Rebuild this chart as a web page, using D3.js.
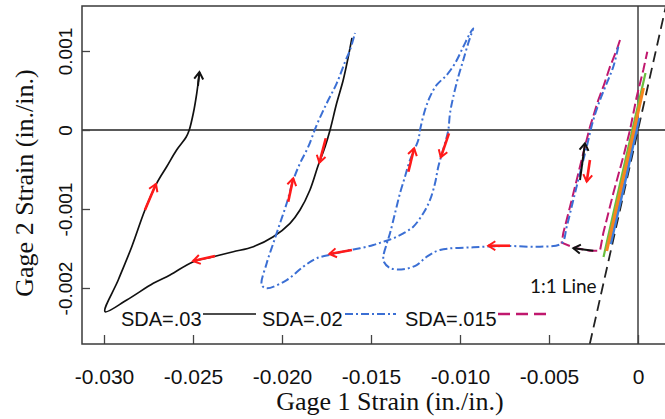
<!DOCTYPE html>
<html>
<head>
<meta charset="utf-8">
<script src="https://cdn.jsdelivr.net/npm/d3@7"></script>
<style>
  body { margin: 0; background: #fff; }
  svg { display: block; }
</style>
</head>
<body>
<div id="chart"></div>
<script>
// tick values and labels
const xTicks = [-0.030, -0.025, -0.020, -0.015, -0.010, -0.005, 0];
const xTickLabels = ["-0.030", "-0.025", "-0.020", "-0.015", "-0.010", "-0.005", "0"];
const yTicks = [-0.002, -0.001, 0, 0.001];
const yTickLabels = ["-0.002", "-0.001", "0", "0.001"];

const seriesNames = ["SDA=.03", "SDA=.02", "SDA=.015"];

// SDA=.03 (gage 1 strain, gage 2 strain)
const sda03 = [
  [-0.01607, 0.001165], [-0.01629, 0.000911], [-0.01656, 0.000633], [-0.01693, 0.000338],
  [-0.01730, 0], [-0.01758, -0.000211], [-0.01796, -0.000443], [-0.01843, -0.000759],
  [-0.01899, -0.001013], [-0.01955, -0.001181], [-0.02049, -0.001351], [-0.02161, -0.001477],
  [-0.02274, -0.001541], [-0.02386, -0.001604], [-0.02498, -0.001667], [-0.02629, -0.001835],
  [-0.02723, -0.001941], [-0.02872, -0.002152], [-0.02994, -0.002300], [-0.02920, -0.001899],
  [-0.02844, -0.001477], [-0.02770, -0.001013], [-0.02704, -0.000675], [-0.02648, -0.000465],
  [-0.02592, -0.000253], [-0.02539, -0.000092], [-0.02521, 0], [-0.02498, 0.000215],
  [-0.02479, 0.000465], [-0.02465, 0.000709]
];

// SDA=.02
const sda02 = [
  [-0.001107, 0.001054], [-0.001388, 0.000801], [-0.001758, 0.000591], [-0.002135, 0.000380],
  [-0.002511, 0.000127], [-0.002882, -0.000211], [-0.003258, -0.000544], [-0.003635, -0.000886],
  [-0.004006, -0.001224], [-0.004287, -0.001434], [-0.005506, -0.001477], [-0.007376, -0.001468],
  [-0.009253, -0.001485], [-0.011124, -0.001519], [-0.011871, -0.001604], [-0.012433, -0.001709],
  [-0.013185, -0.001763], [-0.013933, -0.001747], [-0.014270, -0.001671], [-0.014309, -0.001604],
  [-0.014101, -0.001430], [-0.013933, -0.001308], [-0.013652, -0.001054], [-0.013371, -0.000801],
  [-0.013090, -0.000591], [-0.012809, -0.000380], [-0.012343, -0.000127], [-0.012247, 0],
  [-0.011966, 0.000253], [-0.011685, 0.000422], [-0.011309, 0.000570], [-0.010747, 0.000696],
  [-0.010281, 0.000844], [-0.009815, 0.001054], [-0.009438, 0.001224], [-0.009253, 0.001287],
  [-0.009343, 0.001228], [-0.009534, 0.001101], [-0.009815, 0.000886], [-0.010096, 0.000675],
  [-0.010376, 0.000422], [-0.010562, 0.000211], [-0.010657, 0], [-0.010843, -0.000168],
  [-0.011219, -0.000465], [-0.011404, -0.000675], [-0.011685, -0.000886], [-0.012062, -0.001054],
  [-0.012624, -0.001224], [-0.013185, -0.001308], [-0.013747, -0.001371], [-0.014309, -0.001414],
  [-0.014871, -0.001456], [-0.015618, -0.001497], [-0.016365, -0.001528], [-0.017118, -0.001570],
  [-0.018051, -0.001624], [-0.018803, -0.001730], [-0.019736, -0.001899], [-0.020860, -0.002004],
  [-0.021140, -0.001962], [-0.020860, -0.001687], [-0.020489, -0.001434], [-0.020112, -0.001181],
  [-0.019736, -0.000928], [-0.019365, -0.000633], [-0.018989, -0.000422], [-0.018522, -0.000211],
  [-0.018051, 0.000063], [-0.017489, 0.000338], [-0.016927, 0.000591], [-0.016461, 0.000861],
  [-0.016180, 0.001013], [-0.015899, 0.001228]
];

// SDA=.015
const sda015 = [
  [-0.001011, 0.001139], [-0.001197, 0.001013], [-0.001573, 0.000801], [-0.001949, 0.000548],
  [-0.002230, 0.000380], [-0.002697, 0.000042], [-0.003073, -0.000291], [-0.003444, -0.000633],
  [-0.003820, -0.000971], [-0.004197, -0.001304], [-0.004287, -0.001427], [-0.003539, -0.001494],
  [-0.002697, -0.001528], [-0.002135, -0.001528], [-0.001949, -0.001304], [-0.001388, -0.000801],
  [-0.000826, -0.000338], [-0.000449, 0], [-0.000073, 0.000422], [0.000298, 0.000759],
  [0.000522, 0.000991]
];

// small cycles close to the origin
const greenCycle = [[-0.001938, -0.001608], [-0.000750, -0.000420], [0.000421, 0.000722]];
const blueCycle = [[-0.001545, -0.001443], [-0.000700, -0.000620], [0.000056, 0.000152]];
const orangeCycle = [[-0.001758, -0.001532], [-0.000700, -0.000480], [0.000309, 0.000532]];

// direction arrows: [x1, y1, x2, y2]
const redArrows = [
  [-0.02770, -0.001013, -0.02708, -0.000684],
  [-0.02376, -0.001595, -0.02500, -0.001658],
  [-0.01754, -0.000105, -0.01790, -0.000414],
  [-0.00719, -0.001465, -0.00841, -0.001465],
  [-0.01290, -0.000528, -0.01258, -0.000232],
  [-0.01062, -0.000042, -0.01108, -0.000346],
  [-0.01607, -0.001519, -0.01734, -0.001570],
  [-0.01965, -0.000908, -0.01937, -0.000611],
  [-0.00270, -0.000380, -0.00288, -0.000654]
];
const blackArrows = [
  [-0.00326, -0.000633, -0.00298, -0.000168],
  [-0.00251, -0.001528, -0.00363, -0.001497],
  [-0.02472, 0.000557, -0.02464, 0.000734]
];

const width = 665;
const height = 419;
const plot = { left: 82, right: 667, top: 6, bottom: 344 };

const x = d3.scaleLinear()
    .domain([-0.031236, 0.001629])
    .range([plot.left, plot.right]);

const y = d3.scaleLinear()
    .domain([-0.0027089, 0.0015696])
    .range([plot.bottom, plot.top]);

const svg = d3.select("#chart")
    .append("svg")
    .attr("width", width)
    .attr("height", height);

const defs = svg.append("defs");

defs.append("clipPath")
    .attr("id", "plot-clip")
    .append("rect")
    .attr("x", plot.left)
    .attr("y", plot.top)
    .attr("width", plot.right - plot.left)
    .attr("height", plot.bottom - plot.top);

function arrowMarker(id, color) {
    defs.append("marker")
        .attr("id", id)
        .attr("viewBox", "-9 -6 11 12")
        .attr("refX", 0)
        .attr("refY", 0)
        .attr("markerUnits", "userSpaceOnUse")
        .attr("markerWidth", 11)
        .attr("markerHeight", 12)
        .attr("orient", "auto")
        .append("path")
        .attr("d", "M-7,-4.5 L0,0 L-7,4.5")
        .attr("fill", "none")
        .attr("stroke", color)
        .attr("stroke-width", 2);
}
arrowMarker("arrow-red", "#ff1a1a");
arrowMarker("arrow-black", "#111");

// zero lines
svg.append("line")
    .attr("x1", plot.left).attr("x2", plot.right)
    .attr("y1", y(0)).attr("y2", y(0))
    .attr("stroke", "#222").attr("stroke-width", 1.3);
svg.append("line")
    .attr("x1", x(0)).attr("x2", x(0))
    .attr("y1", plot.top).attr("y2", plot.bottom)
    .attr("stroke", "#222").attr("stroke-width", 1.3);

const line = d3.line()
    .x(d => x(d[0]))
    .y(d => y(d[1]));

// smoother line for the long hysteresis curves
const smoothLine = d3.line()
    .x(d => x(d[0]))
    .y(d => y(d[1]))
    .curve(d3.curveCatmullRom.alpha(0.5));

const g = svg.append("g").attr("clip-path", "url(#plot-clip)");

// 1:1 line
const yd = y.domain();
g.append("path")
    .datum([[yd[0], yd[0]], [yd[1], yd[1]]])
    .attr("d", line)
    .attr("fill", "none")
    .attr("stroke", "#222")
    .attr("stroke-width", 1.8)
    .attr("stroke-dasharray", "11,6");

g.append("path").datum(greenCycle).attr("d", line)
    .attr("fill", "none").attr("stroke", "#6abf40").attr("stroke-width", 2.2);
g.append("path").datum(blueCycle).attr("d", line)
    .attr("fill", "none").attr("stroke", "#3d7fe0").attr("stroke-width", 3);
g.append("path").datum(orangeCycle).attr("d", line)
    .attr("fill", "none").attr("stroke", "#f5861f").attr("stroke-width", 3);

g.append("path").datum(sda015).attr("d", line)
    .attr("fill", "none").attr("stroke", "#c0186e").attr("stroke-width", 2)
    .attr("stroke-dasharray", "10,4");

g.append("path").datum(sda03).attr("d", smoothLine)
    .attr("fill", "none").attr("stroke", "#111").attr("stroke-width", 1.7)
    .attr("stroke-linejoin", "round");

g.append("path").datum(sda02).attr("d", smoothLine)
    .attr("fill", "none").attr("stroke", "#3b6fd4").attr("stroke-width", 2)
    .attr("stroke-dasharray", "8,3,2,3");

// arrows
g.selectAll(".red-arrow")
    .data(redArrows)
    .enter().append("line")
    .attr("class", "red-arrow")
    .attr("x1", d => x(d[0])).attr("y1", d => y(d[1]))
    .attr("x2", d => x(d[2])).attr("y2", d => y(d[3]))
    .attr("stroke", "#ff1a1a")
    .attr("stroke-width", 2.6)
    .attr("marker-end", "url(#arrow-red)");

g.selectAll(".black-arrow")
    .data(blackArrows)
    .enter().append("line")
    .attr("class", "black-arrow")
    .attr("x1", d => x(d[0])).attr("y1", d => y(d[1]))
    .attr("x2", d => x(d[2])).attr("y2", d => y(d[3]))
    .attr("stroke", "#111")
    .attr("stroke-width", 2)
    .attr("marker-end", "url(#arrow-black)");

// X axis
svg.append("g")
    .attr("transform", `translate(0,${plot.bottom})`)
    .call(d3.axisBottom(x).tickValues(xTicks).tickFormat((d, i) => xTickLabels[i])
        .tickSize(-9).tickPadding(25))
    .call(a => a.select(".domain").remove())
    .call(a => a.selectAll("line").attr("stroke", "#444").attr("stroke-width", 1.3))
    .selectAll("text")
    .attr("fill", "#111")
    .style("font-family", "'Liberation Sans', Arial, sans-serif")
    .style("font-size", "21px");

// Y axis
svg.append("g")
    .attr("transform", `translate(${plot.left},0)`)
    .call(d3.axisLeft(y).tickValues(yTicks).tickFormat((d, i) => yTickLabels[i])
        .tickSize(-8))
    .call(a => a.select(".domain").remove())
    .call(a => a.selectAll("line").attr("stroke", "#444").attr("stroke-width", 1.3))
    .selectAll("text")
    .attr("transform", "rotate(-90)")
    .attr("x", 0)
    .attr("y", -10)
    .attr("dy", 0)
    .attr("text-anchor", "middle")
    .attr("fill", "#111")
    .style("font-family", "'Liberation Sans', Arial, sans-serif")
    .style("font-size", "19px");

// frame
svg.append("rect")
    .attr("x", plot.left)
    .attr("y", plot.top)
    .attr("width", plot.right - plot.left)
    .attr("height", plot.bottom - plot.top)
    .attr("fill", "none")
    .attr("stroke", "#3a3a3a")
    .attr("stroke-width", 1.5);

// axis titles
svg.append("text")
    .attr("x", 390)
    .attr("y", 410)
    .attr("text-anchor", "middle")
    .style("font-family", "'Liberation Serif', 'Times New Roman', serif")
    .style("font-size", "26px")
    .attr("fill", "#111")
    .text("Gage 1 Strain (in./in.)");

svg.append("text")
    .attr("transform", "translate(33,183) rotate(-90)")
    .attr("text-anchor", "middle")
    .style("font-family", "'Liberation Serif', 'Times New Roman', serif")
    .style("font-size", "26px")
    .attr("fill", "#111")
    .text("Gage 2 Strain (in./in.)");

// 1:1 label
svg.append("text")
    .attr("x", 530)
    .attr("y", 293)
    .style("font-family", "Lato, 'Liberation Sans', sans-serif")
    .style("font-size", "19px")
    .attr("fill", "#111")
    .text("1:1 Line");

// legend
const legendItems = [
    { name: seriesNames[0], tx: 121, x1: 203, x2: 256, color: "#111", width: 1.7, dash: null },
    { name: seriesNames[1], tx: 262, x1: 345, x2: 396, color: "#3b6fd4", width: 2, dash: "8,3,2,3" },
    { name: seriesNames[2], tx: 405, x1: 498, x2: 552, color: "#c0186e", width: 2.5, dash: "12,6" }
];

const legend = svg.append("g");
legend.selectAll("text")
    .data(legendItems)
    .enter().append("text")
    .attr("x", d => d.tx)
    .attr("y", 326)
    .style("font-family", "'Liberation Sans', Arial, sans-serif")
    .style("font-size", "20px")
    .attr("fill", "#111")
    .text(d => d.name);

legend.selectAll("line")
    .data(legendItems)
    .enter().append("line")
    .attr("x1", d => d.x1).attr("x2", d => d.x2)
    .attr("y1", 314).attr("y2", 314)
    .attr("stroke", d => d.color)
    .attr("stroke-width", d => d.width)
    .attr("stroke-dasharray", d => d.dash);
</script>
</body>
</html>
